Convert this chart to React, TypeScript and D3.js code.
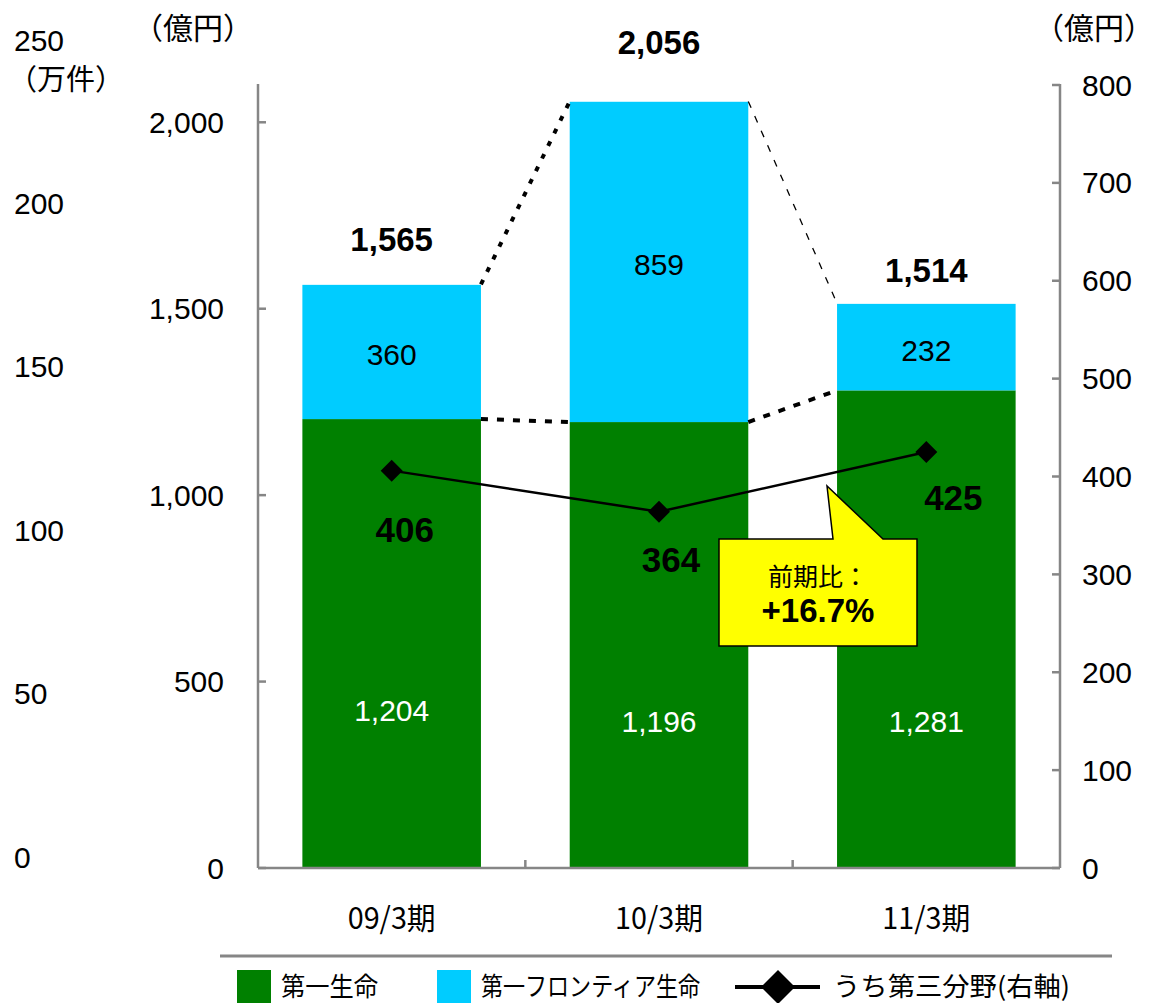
import React from "react";
import * as d3 from "d3";

const categories = ["09/3期", "10/3期", "11/3期"];
const daiichi = [1204, 1196, 1281];
const frontier = [360, 859, 232];
const totals = [1565, 2056, 1514];
const thirdSector = [406, 364, 425];
const leftTicks = [0, 500, 1000, 1500, 2000];
const rightTicks = [0, 100, 200, 300, 400, 500, 600, 700, 800];
const farLeftTicks = [0, 50, 100, 150, 200, 250];
const legendLabels = ["第一生命", "第一フロンティア生命", "うち第三分野(右軸)"];

const GREEN = "#008000";
const CYAN = "#00CCFF";
const AXIS = "#868686";
const LAT = "'Liberation Sans', Arial, 'Noto Sans CJK JP', sans-serif";
const JP = "'Noto Sans CJK JP', 'Liberation Sans', sans-serif";

export default function App() {
  const W = 1155, H = 1003;
  const top = 85, bottom = 868, left = 258, right = 1060;
  const yL = d3.scaleLinear().domain([0, 2100]).range([bottom, top]);
  const yR = d3.scaleLinear().domain([0, 800]).range([bottom, top]);
  const yF = d3.scaleLinear().domain([0, 250]).range([857, 40]);
  const x = d3.scaleBand<string>().domain(categories).range([left, right]).paddingInner(0.332).paddingOuter(0.166);
  const bw = x.bandwidth();
  const cx = (c: string) => (x(c) as number) + bw / 2;

  // label placement offsets (layout)
  const totalDy = [-45, -59, -33];
  const greenLabelDy = [67, 76, 92];
  const lineDx = [13, 12, 27];
  const lineDy = [59, 48, 45];

  const linePath = d3.line<number>()
    .x((_, i) => cx(categories[i]))
    .y((v) => yR(v))(thirdSector) as string;

  const diamond = (px: number, py: number, r: number) =>
    `M${px},${py - r}L${px + r},${py}L${px},${py + r}L${px - r},${py}Z`;

  const conn = (i: number, vals: number[]) => {
    const x1 = (x(categories[i]) as number) + bw;
    const x2 = x(categories[i + 1]) as number;
    return { x1, y1: yL(vals[i]), x2, y2: yL(vals[i + 1]) };
  };
  const topC0 = conn(0, totals);
  const topC1 = conn(1, totals);
  const botC0 = conn(0, daiichi);
  const botC1 = conn(1, daiichi);

  const bx0 = 719, bx1 = 917, by0 = 539, by1 = 646;
  const tipX = 827, tipY = 486;
  const calloutPath = `M${bx0},${by0}L${833},${by0}L${tipX},${tipY}L${883},${by0}L${bx1},${by0}L${bx1},${by1}L${bx0},${by1}Z`;

  const boundaries = categories.slice(1).map((c) => (x(c) as number) - (x.step() - bw) / 2);

  return (
    <svg width={W} height={H} style={{ display: "block", position: "absolute", left: 0, top: 0, background: "#fff" }}>
      {farLeftTicks.map((t) => (
        <text key={"f" + t} x={14} y={yF(t)} dominantBaseline="central" fontFamily={LAT} fontSize={30}>{t}</text>
      ))}
      <text x={8} y={77} dominantBaseline="central" fontFamily={JP} fontSize={29}>（万件）</text>
      <text x={133} y={26} dominantBaseline="central" fontFamily={JP} fontSize={30}>（億円）</text>
      <text x={1034} y={26} dominantBaseline="central" fontFamily={JP} fontSize={30}>（億円）</text>

      {categories.map((c, i) => (
        <g key={c}>
          <rect x={x(c)} y={yL(daiichi[i])} width={bw} height={yL(0) - yL(daiichi[i])} fill={GREEN} />
          <rect x={x(c)} y={yL(daiichi[i] + frontier[i])} width={bw} height={yL(daiichi[i]) - yL(daiichi[i] + frontier[i])} fill={CYAN} />
        </g>
      ))}

      <line {...topC0} stroke="#000" strokeWidth={4} strokeDasharray="5,9" />
      <line {...topC1} stroke="#000" strokeWidth={1.3} strokeDasharray="7,9" />
      <line {...botC0} stroke="#000" strokeWidth={4} strokeDasharray="7,9" />
      <line {...botC1} stroke="#000" strokeWidth={4} strokeDasharray="7,9" />

      <g stroke={AXIS} strokeWidth={2.5} fill="none">
        <line x1={left} y1={top - 1} x2={left} y2={bottom} />
        <line x1={right} y1={top - 1} x2={right} y2={bottom} />
        <line x1={left} y1={bottom} x2={right} y2={bottom} />
        {leftTicks.map((t) => <line key={"lt" + t} x1={left} x2={left + 8} y1={yL(t)} y2={yL(t)} />)}
        {rightTicks.map((t) => <line key={"rt" + t} x1={right - 8} x2={right} y1={yR(t)} y2={yR(t)} />)}
        {boundaries.map((b, i) => <line key={"bt" + i} x1={b} x2={b} y1={bottom} y2={bottom - 8} />)}
      </g>
      {leftTicks.map((t) => (
        <text key={"ll" + t} x={224} y={yL(t)} textAnchor="end" dominantBaseline="central" fontFamily={LAT} fontSize={30}>{d3.format(",")(t)}</text>
      ))}
      {rightTicks.map((t) => (
        <text key={"rl" + t} x={1082} y={yR(t)} dominantBaseline="central" fontFamily={LAT} fontSize={30}>{t}</text>
      ))}
      {categories.map((c) => (
        <text key={"cl" + c} x={cx(c)} y={916} textAnchor="middle" dominantBaseline="central" fontFamily={JP} fontSize={30} textLength={88} lengthAdjust="spacingAndGlyphs">{c}</text>
      ))}

      {categories.map((c, i) => (
        <g key={"sl" + c}>
          <text x={cx(c)} y={(yL(daiichi[i]) + yL(daiichi[i] + frontier[i])) / 2 + 3} textAnchor="middle" dominantBaseline="central" fontFamily={LAT} fontSize={30} fill="#000">{d3.format(",")(frontier[i])}</text>
          <text x={cx(c)} y={yL(daiichi[i]) + (yL(0) - yL(daiichi[i])) / 2 + greenLabelDy[i]} textAnchor="middle" dominantBaseline="central" fontFamily={LAT} fontSize={30} fill="#fff">{d3.format(",")(daiichi[i])}</text>
          <text x={cx(c)} y={yL(totals[i]) + totalDy[i]} textAnchor="middle" dominantBaseline="central" fontFamily={LAT} fontSize={33} fontWeight="bold">{d3.format(",")(totals[i])}</text>
        </g>
      ))}

      <path d={linePath} fill="none" stroke="#000" strokeWidth={2.5} />
      {thirdSector.map((v, i) => (
        <g key={"d" + i}>
          <path d={diamond(cx(categories[i]), yR(v), 11)} fill="#000" />
          <text x={cx(categories[i]) + lineDx[i]} y={yR(v) + lineDy[i]} textAnchor="middle" dominantBaseline="central" fontFamily={LAT} fontSize={35} fontWeight="bold">{v}</text>
        </g>
      ))}

      <path d={calloutPath} fill="#FFFF00" stroke="#000" strokeWidth={1.5} />
      <text x={(bx0 + bx1) / 2} y={575} textAnchor="middle" dominantBaseline="central" fontFamily={JP} fontSize={25}>前期比：</text>
      <text x={(bx0 + bx1) / 2} y={610} textAnchor="middle" dominantBaseline="central" fontFamily={LAT} fontSize={33} fontWeight="bold">+16.7%</text>

      <line x1={220} x2={1112} y1={956} y2={956} stroke={AXIS} strokeWidth={3} />
      <rect x={237} y={970} width={34} height={34} fill={GREEN} />
      <text x={281} y={984} dominantBaseline="central" fontFamily={JP} fontSize={26} textLength={97} lengthAdjust="spacingAndGlyphs">{legendLabels[0]}</text>
      <rect x={437} y={970} width={34} height={34} fill={CYAN} />
      <text x={481} y={984} dominantBaseline="central" fontFamily={JP} fontSize={26} textLength={219} lengthAdjust="spacingAndGlyphs">{legendLabels[1]}</text>
      <line x1={735} x2={820} y1={987} y2={987} stroke="#000" strokeWidth={4} />
      <path d={diamond(778, 987, 17)} fill="#000" />
      <text x={833} y={984} dominantBaseline="central" fontFamily={JP} fontSize={26} textLength={237} lengthAdjust="spacingAndGlyphs">{legendLabels[2]}</text>
    </svg>
  );
}
